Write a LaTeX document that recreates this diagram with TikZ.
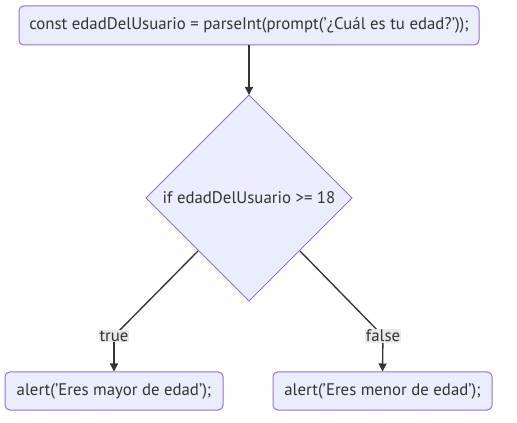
\documentclass[tikz,border=0pt]{standalone}
\usepackage{fontspec}
\setmainfont{PT Sans}
\usetikzlibrary{shapes.geometric,arrows.meta}
\definecolor{nodefill}{HTML}{ECECFF}
\definecolor{nodeline}{HTML}{9370DB}
\definecolor{txt}{HTML}{333333}
\definecolor{lblbg}{HTML}{E8E8E8}
\tikzset{
  fnt/.style={font=\fontsize{12.6}{14}\selectfont},
  px/.style={x=0.75pt,y=-0.75pt},
  procbox/.style={draw=nodeline,fill=nodefill,rounded corners=3.5pt,line width=0.75pt,inner sep=0pt,text=txt,fnt},
  decbox/.style={draw=nodeline,fill=nodefill,line width=0.75pt},
  conn/.style={draw=txt,line width=1pt},
  arr/.style={conn,-{Triangle[length=6pt,width=6pt]}},
  lbl/.style={fill=lblbg,text=txt,inner sep=0.5pt,fnt}
}
\begin{document}
\begin{tikzpicture}[px]
\useasboundingbox (0,0) rectangle (517,423);
\node[procbox,minimum width=345pt,minimum height=29.25pt] (start) at (249,25.5) {const edadDelUsuario = parseInt(prompt('¿Cuál es tu edad?'));};
\coordinate (dtop) at (249,95);
\coordinate (dbot) at (249,301);
\coordinate (dleft) at (146,198);
\coordinate (dright) at (352,198);
\draw[decbox] (dtop) -- (dright) -- (dbot) -- (dleft) -- cycle;
\node[text=txt,fnt] (cond) at (249,198) {if edadDelUsuario >= 18};
\node[procbox,minimum width=163.5pt,minimum height=28.5pt] (yes) at (114,391) {alert('Eres mayor de edad');};
\node[procbox,minimum width=164.25pt,minimum height=28.5pt] (no) at (382.5,391) {alert('Eres menor de edad');};
\coordinate (tl) at (114,336);
\coordinate (fl) at (383,336);
\coordinate (dl) at (198,251);
\coordinate (dr) at (300,251);
\draw[arr] (start.south) -- (dtop);
\draw[conn] (dl) -- (tl);
\draw[conn] (dr) -- (fl);
\draw[arr] (tl) -- (yes.north);
\draw[arr] (fl) -- (no.north);
\node[lbl] (tlabel) at (tl) {true};
\node[lbl] (flabel) at (fl) {false};
\end{tikzpicture}
\end{document}
